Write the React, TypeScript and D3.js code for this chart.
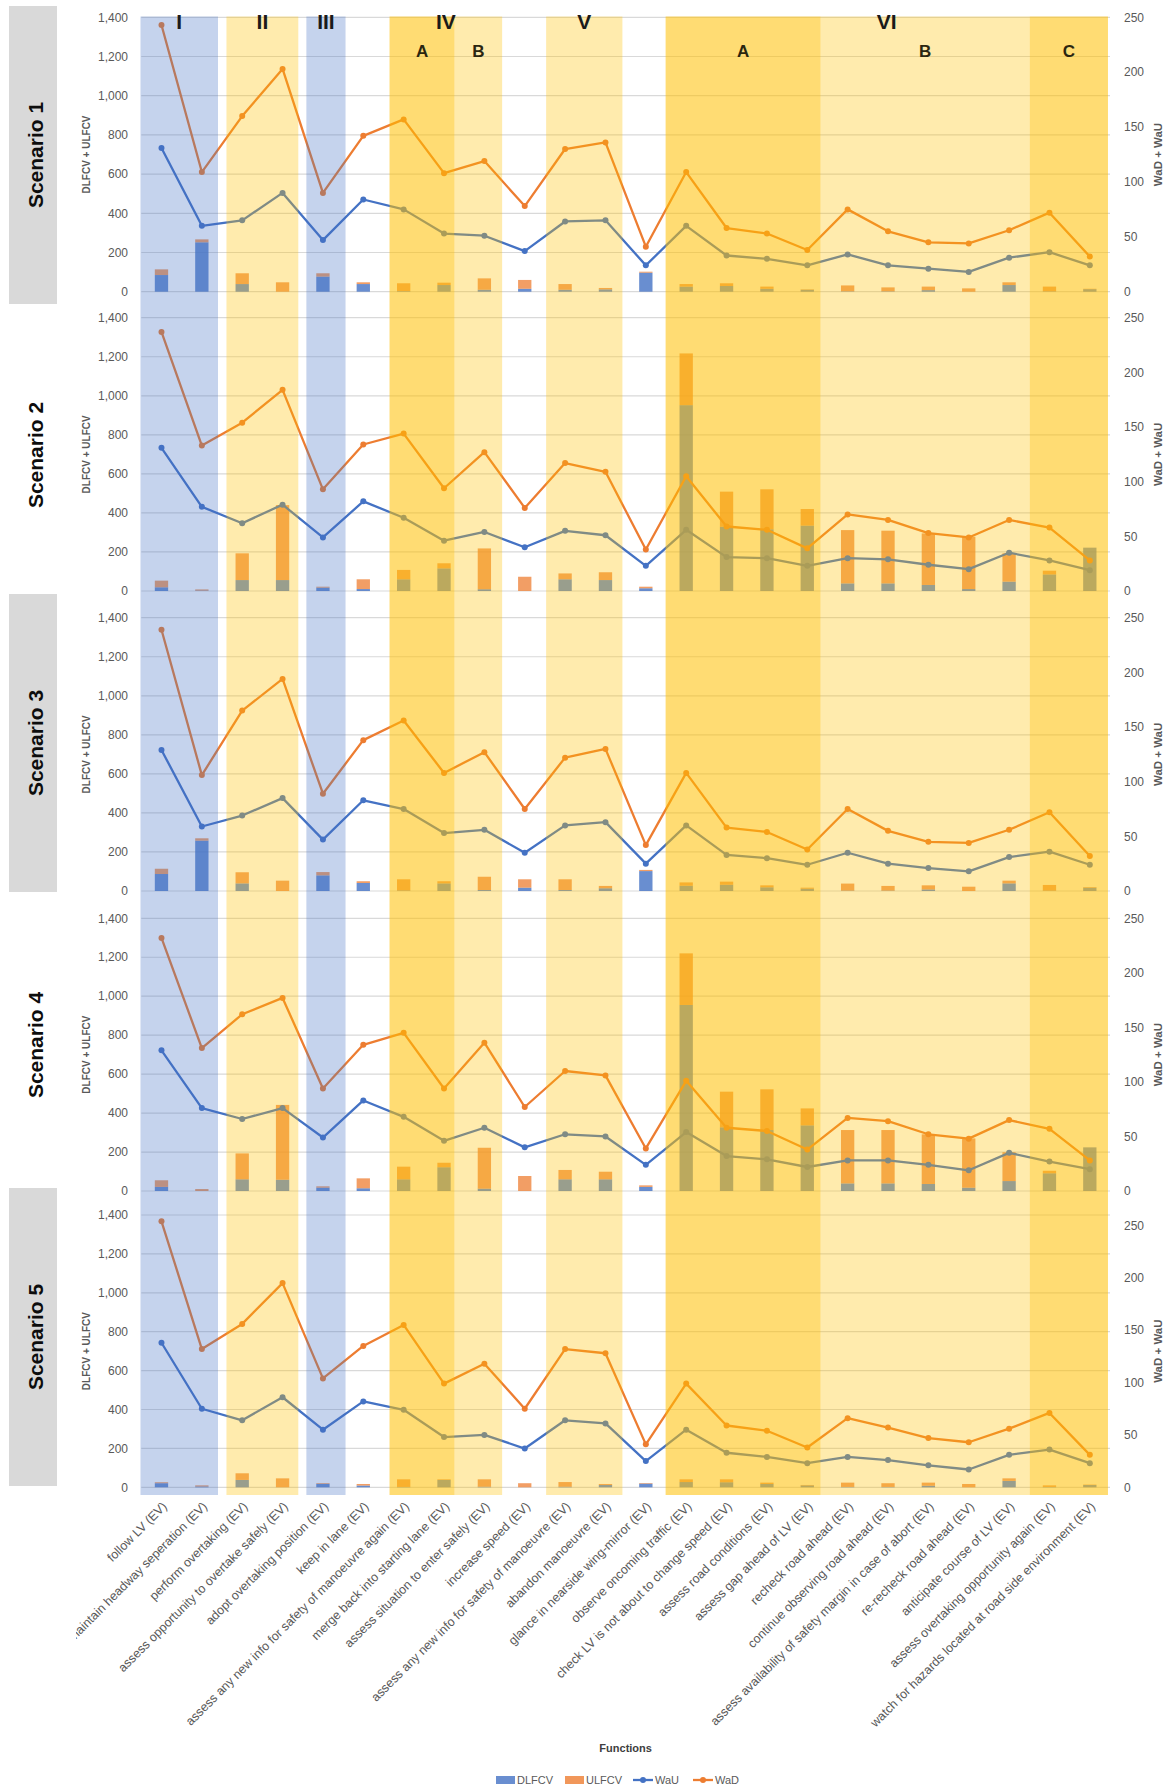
import * as d3 from "d3";
import React from "react";

const functions = [
  "follow LV (EV)",
  "maintain headway seperation (EV)",
  "perform overtaking (EV)",
  "assess opportunity to overtake safely (EV)",
  "adopt overtaking position (EV)",
  "keep in lane (EV)",
  "assess any new info for safety of manoeuvre again (EV)",
  "merge back into starting lane (EV)",
  "assess situation to enter safely (EV)",
  "increase speed (EV)",
  "assess any new info for safety of manoeuvre (EV)",
  "abandon manoeuvre (EV)",
  "glance in nearside wing-mirror (EV)",
  "observe oncoming traffic (EV)",
  "check LV is not about to change speed (EV)",
  "assess road conditions (EV)",
  "assess gap ahead of LV (EV)",
  "recheck road ahead (EV)",
  "continue observing road ahead (EV)",
  "assess availability of safety margin in case of abort (EV)",
  "re-recheck road ahead (EV)",
  "anticipate course of LV (EV)",
  "assess overtaking opportunity again (EV)",
  "watch for hazards located at road side environment (EV)",
];

const scenarioNames = ["Scenario 1", "Scenario 2", "Scenario 3", "Scenario 4", "Scenario 5"];

// Scenario 1
const dlfcv1 = [85, 252, 39, 0, 77, 39, 3, 34, 10, 15, 10, 12, 97, 26, 29, 15, 10, 2, 2, 8, 0, 34, 2, 13];
const ulfcv1 = [29, 15, 55, 48, 17, 9, 40, 12, 58, 45, 29, 7, 5, 13, 14, 11, 2, 30, 20, 18, 17, 14, 24, 2];
const wau1 = [131, 60, 65, 90, 47, 84, 75, 53, 51, 37, 64, 65, 24, 60, 33, 30, 24, 34, 24, 21, 18, 31, 36, 24];
const wad1 = [243, 109, 160, 203, 90, 142, 157, 108, 119, 78, 130, 136, 41, 109, 58, 53, 38, 75, 55, 45, 44, 56, 72, 32];

// Scenario 2
const dlfcv2 = [19, 2, 56, 56, 17, 10, 60, 116, 9, 0, 60, 56, 14, 952, 329, 316, 335, 39, 39, 31, 10, 48, 85, 222];
const ulfcv2 = [34, 6, 137, 384, 5, 50, 48, 26, 209, 73, 30, 40, 8, 265, 180, 205, 85, 273, 270, 264, 268, 145, 19, 0];
const wau2 = [131, 77, 62, 79, 49, 82, 67, 46, 54, 40, 55, 51, 23, 56, 31, 30, 23, 30, 29, 24, 20, 35, 28, 19];
const wad2 = [237, 133, 154, 184, 93, 134, 144, 94, 127, 76, 117, 109, 38, 105, 59, 56, 39, 70, 65, 53, 49, 65, 58, 28];

// Scenario 3
const dlfcv3 = [87, 258, 39, 0, 80, 41, 3, 39, 5, 17, 5, 14, 102, 27, 32, 19, 12, 2, 2, 8, 0, 39, 2, 17];
const ulfcv3 = [27, 12, 57, 53, 17, 9, 57, 11, 68, 43, 55, 12, 6, 17, 16, 10, 5, 36, 24, 21, 22, 14, 29, 3];
const wau3 = [129, 59, 69, 85, 47, 83, 75, 53, 56, 35, 60, 63, 25, 60, 33, 30, 24, 35, 25, 21, 18, 31, 36, 24];
const wad3 = [239, 106, 165, 194, 89, 138, 156, 108, 127, 75, 122, 130, 42, 108, 58, 54, 38, 75, 55, 45, 44, 56, 72, 32];

// Scenario 4
const dlfcv4 = [21, 0, 60, 58, 17, 14, 60, 122, 12, 0, 60, 60, 21, 955, 327, 313, 337, 39, 39, 36, 17, 51, 91, 224];
const ulfcv4 = [34, 10, 133, 384, 7, 51, 65, 23, 210, 77, 48, 39, 8, 265, 183, 209, 87, 274, 274, 255, 253, 148, 13, 0];
const wau4 = [129, 76, 66, 76, 49, 83, 68, 46, 58, 40, 52, 50, 24, 54, 32, 29, 22, 28, 28, 24, 19, 35, 27, 20];
const wad4 = [232, 131, 162, 177, 94, 134, 145, 94, 136, 77, 110, 106, 39, 101, 58, 55, 38, 67, 64, 52, 48, 65, 57, 28];

// Scenario 5
const dlfcv5 = [21, 4, 38, 0, 17, 9, 2, 38, 3, 0, 3, 12, 19, 27, 26, 17, 10, 2, 2, 8, 0, 33, 2, 12];
const ulfcv5 = [5, 6, 34, 46, 4, 8, 39, 3, 38, 21, 24, 5, 3, 14, 15, 7, 2, 22, 19, 16, 17, 13, 8, 2];
const wau5 = [138, 75, 64, 86, 55, 82, 74, 48, 50, 37, 64, 61, 25, 55, 33, 29, 23, 29, 26, 21, 17, 31, 36, 23];
const wad5 = [254, 132, 156, 195, 104, 135, 155, 99, 118, 75, 132, 128, 41, 99, 59, 54, 38, 66, 57, 47, 43, 56, 71, 31];

const leftTicks = [0, 200, 400, 600, 800, 1000, 1200, 1400];
const rightTicks = [0, 50, 100, 150, 200, 250];
const rightMax = [250, 250, 250, 250, 260];

const phaseNames = ["I", "II", "III", "IV", "V", "VI"];
const subPhaseNames = ["A", "B", "A", "B", "C"];

const scenarios = [
  { name: scenarioNames[0], dlfcv: dlfcv1, ulfcv: ulfcv1, wau: wau1, wad: wad1 },
  { name: scenarioNames[1], dlfcv: dlfcv2, ulfcv: ulfcv2, wau: wau2, wad: wad2 },
  { name: scenarioNames[2], dlfcv: dlfcv3, ulfcv: ulfcv3, wau: wau3, wad: wad3 },
  { name: scenarioNames[3], dlfcv: dlfcv4, ulfcv: ulfcv4, wau: wau4, wad: wad4 },
  { name: scenarioNames[4], dlfcv: dlfcv5, ulfcv: ulfcv5, wau: wau5, wad: wad5 },
];

// layout
const W = 1169;
const H = 1789;
const plotLeft = 141.3;
const plotRight = 1110;
const panelTop = [17.3, 317.7, 617.7, 918.3, 1215];
const panelBottom = [291.7, 591, 891, 1191, 1487.3];
const boxTop = [6, 306, 594, 896, 1188];
const boxShaded = [true, false, true, false, true];
const bandTop = 16.5;
const bandBottom = 1495;

// phase shading, in category-boundary units
const bands = [
  { from: -0.02, to: 1.9, tone: "blue" },
  { from: 2.11, to: 3.89, tone: "light" },
  { from: 4.09, to: 5.06, tone: "blue" },
  { from: 6.15, to: 7.76, tone: "dark" },
  { from: 7.76, to: 8.94, tone: "light" },
  { from: 10.03, to: 11.92, tone: "light" },
  { from: 12.99, to: 16.83, tone: "dark" },
  { from: 16.83, to: 22.01, tone: "light" },
  { from: 22.01, to: 23.95, tone: "dark" },
];
const phaseSpans = [[-0.02, 1.9], [2.11, 3.89], [4.09, 5.06], [6.15, 8.94], [10.03, 11.92], [12.99, 23.95]];
const subSpans = [[6.15, 7.76], [7.76, 8.94], [12.99, 16.83], [16.83, 22.01], [22.01, 23.95]];

const toneFill: Record<string, { c: string; o: number }> = {
  blue: { c: "#4472C4", o: 0.31 },
  light: { c: "#FFC000", o: 0.32 },
  dark: { c: "#FFC000", o: 0.55 },
};

const BLUE = "#4472C4";
const ORANGE = "#ED7D31";
const AXIS_TEXT = "#595959";
const FONT = "'Liberation Sans', Arial, sans-serif";

const legendItems = [
  { label: "DLFCV", kind: "bar", color: BLUE, x: 496 },
  { label: "ULFCV", kind: "bar", color: ORANGE, x: 565 },
  { label: "WaU", kind: "line", color: BLUE, x: 633 },
  { label: "WaD", kind: "line", color: ORANGE, x: 693 },
];

export default function App() {
  const x = d3
    .scaleBand<string>()
    .domain(functions)
    .range([plotLeft, plotRight])
    .paddingInner(0.67)
    .paddingOuter(0.335);
  const step = x.step();
  const cx = (i: number) => (x(functions[i]) ?? 0) + x.bandwidth() / 2;
  const edge = (e: number) => plotLeft + step * e;
  const fmt = d3.format(",");

  return (
    <svg
      width={W}
      height={H}
      viewBox={`0 0 ${W} ${H}`}
      style={{ position: "absolute", left: 0, top: 0, display: "block", background: "#fff" }}
      fontFamily={FONT}
    >
      <defs>
        <clipPath id="labelClip">
          <rect x={76} y={1490} width={W - 76} height={H - 1490} />
        </clipPath>
      </defs>

      {scenarios.map((s, p) => {
        const top = panelTop[p];
        const bottom = panelBottom[p];
        const mid = (top + bottom) / 2;
        const yL = d3.scaleLinear().domain([0, 1400]).range([bottom, top]);
        const yR = d3.scaleLinear().domain([0, rightMax[p]]).range([bottom, top]);
        const line = d3
          .line<number>()
          .x((_, i) => cx(i))
          .y((v) => yR(v));
        return (
          <g key={s.name}>
            {boxShaded[p] && <rect x={9} y={boxTop[p]} width={48} height={298} fill="#D9D9D9" />}
            <text
              transform={`translate(35,${boxTop[p] + 149}) rotate(-90)`}
              textAnchor="middle"
              dy="0.36em"
              fontSize={21}
              fontWeight="bold"
              fill="#0d0d0d"
            >
              {s.name}
            </text>

            {leftTicks.map((t) => (
              <line key={t} x1={plotLeft} x2={plotRight} y1={yL(t)} y2={yL(t)} stroke="#D9D9D9" strokeWidth={1.2} />
            ))}
            {leftTicks.map((t) => (
              <text key={t} x={128} y={yL(t)} dy="0.35em" textAnchor="end" fontSize={12} fill={AXIS_TEXT}>
                {fmt(t)}
              </text>
            ))}
            {rightTicks.map((t) => (
              <text key={t} x={1124} y={yR(t)} dy="0.35em" textAnchor="start" fontSize={12} fill={AXIS_TEXT}>
                {t}
              </text>
            ))}
            <text
              transform={`translate(86,${mid}) rotate(-90)`}
              textAnchor="middle"
              dy="0.35em"
              fontSize={10}
              fontWeight="bold"
              fill={AXIS_TEXT}
            >
              DLFCV + ULFCV
            </text>
            <text
              transform={`translate(1158,${mid}) rotate(-90)`}
              textAnchor="middle"
              dy="0.35em"
              fontSize={11.5}
              fontWeight="bold"
              fill={AXIS_TEXT}
            >
              WaD + WaU
            </text>

            {functions.map((f, i) => {
              const d = s.dlfcv[i];
              const u = s.ulfcv[i];
              const x0 = x(f) ?? 0;
              return (
                <g key={f}>
                  <rect x={x0} width={x.bandwidth()} y={yL(d)} height={yL(0) - yL(d)} fill={BLUE} fillOpacity={0.8} />
                  <rect x={x0} width={x.bandwidth()} y={yL(d + u)} height={yL(d) - yL(d + u)} fill={ORANGE} fillOpacity={0.75} />
                </g>
              );
            })}

            <path d={line(s.wau) ?? ""} fill="none" stroke={BLUE} strokeWidth={2.3} strokeLinejoin="round" />
            {s.wau.map((v, i) => (
              <circle key={i} cx={cx(i)} cy={yR(v)} r={3} fill={BLUE} />
            ))}
            <path d={line(s.wad) ?? ""} fill="none" stroke={ORANGE} strokeWidth={2.3} strokeLinejoin="round" />
            {s.wad.map((v, i) => (
              <circle key={i} cx={cx(i)} cy={yR(v)} r={3} fill={ORANGE} />
            ))}
          </g>
        );
      })}

      {/* phase shading drawn over the marks */}
      {bands.map((b, i) => (
        <rect
          key={i}
          x={edge(b.from)}
          y={bandTop}
          width={edge(b.to) - edge(b.from)}
          height={bandBottom - bandTop}
          fill={toneFill[b.tone].c}
          fillOpacity={toneFill[b.tone].o}
        />
      ))}

      {phaseNames.map((n, i) => (
        <text
          key={n}
          x={(edge(phaseSpans[i][0]) + edge(phaseSpans[i][1])) / 2}
          y={29}
          textAnchor="middle"
          fontSize={21}
          fontWeight="bold"
          fill="#1a1a1a"
        >
          {n}
        </text>
      ))}
      {subPhaseNames.map((n, i) => (
        <text
          key={i}
          x={(edge(subSpans[i][0]) + edge(subSpans[i][1])) / 2}
          y={57}
          textAnchor="middle"
          fontSize={17}
          fontWeight="bold"
          fill="#2b2610"
        >
          {n}
        </text>
      ))}

      <g clipPath="url(#labelClip)">
        {functions.map((f, i) => (
          <text
            key={f}
            transform={`translate(${cx(i)},1501) rotate(-45)`}
            textAnchor="end"
            dy="0.7em"
            fontSize={12.5}
            fill={AXIS_TEXT}
          >
            {f}
          </text>
        ))}
      </g>

      <text x={(plotLeft + plotRight) / 2} y={1752} textAnchor="middle" fontSize={11} fontWeight="bold" fill="#404040">
        Functions
      </text>

      {legendItems.map((it) => (
        <g key={it.label} transform={`translate(${it.x},1780)`}>
          {it.kind === "bar" ? (
            <rect x={0} y={-4} width={19} height={8} fill={it.color} fillOpacity={0.8} />
          ) : (
            <g>
              <line x1={0} x2={20} y1={0} y2={0} stroke={it.color} strokeWidth={2.3} />
              <circle cx={10} cy={0} r={3} fill={it.color} />
            </g>
          )}
          <text x={it.kind === "bar" ? 21 : 22} y={0} dy="0.35em" fontSize={11} fill={AXIS_TEXT}>
            {it.label}
          </text>
        </g>
      ))}
    </svg>
  );
}
